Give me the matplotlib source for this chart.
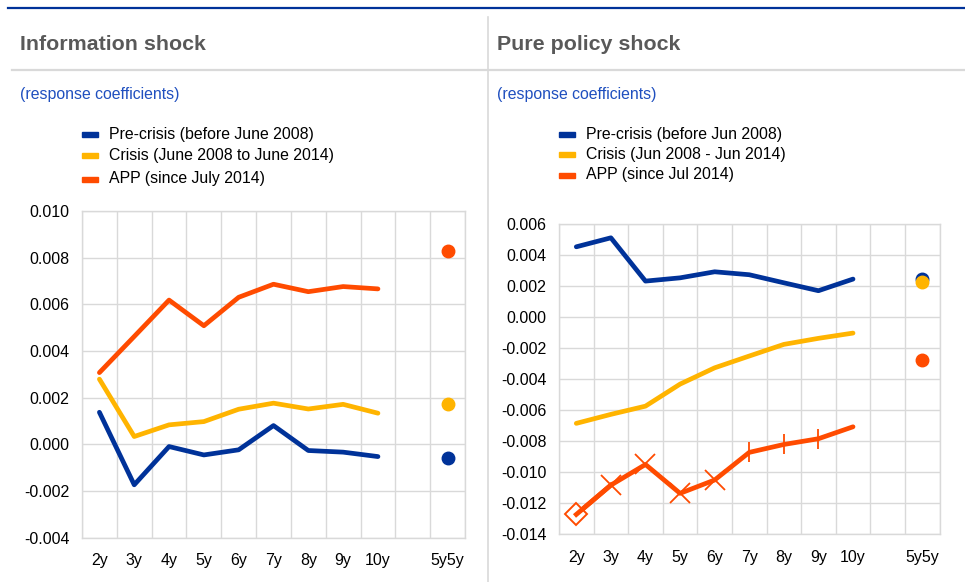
import matplotlib

matplotlib.use("Agg")
import matplotlib.pyplot as plt
from matplotlib.lines import Line2D
from matplotlib.patches import Rectangle
import numpy as np

plt.rcParams["font.family"] = ["Liberation Sans", "DejaVu Sans"]

maturities = ["2y", "3y", "4y", "5y", "6y", "7y", "8y", "9y", "10y"]
extra_label = "5y5y"

info_pre = [0.00137, -0.00174, -0.00010, -0.00046, -0.00024, 0.00080, -0.00027, -0.00034, -0.00053]
info_crisis = [0.00279, 0.00033, 0.00083, 0.00097, 0.00150, 0.00176, 0.00151, 0.00171, 0.00133]
info_app = [0.00307, 0.00462, 0.00618, 0.00508, 0.00630, 0.00686, 0.00654, 0.00676, 0.00666]
info_5y5y = {"pre": -0.00057, "crisis": 0.00171, "app": 0.00828}

pure_pre = [0.00453, 0.00511, 0.00232, 0.00253, 0.00292, 0.00273, 0.00221, 0.00170, 0.00245]
pure_crisis = [-0.00685, -0.00627, -0.00574, -0.00432, -0.00327, -0.00251, -0.00176, -0.00137, -0.00103]
pure_app = [-0.01272, -0.01083, -0.00950, -0.01136, -0.01050, -0.00872, -0.00821, -0.00784, -0.00707]
pure_5y5y = {"pre": 0.00245, "crisis": 0.00228, "app": -0.00277}

info_labels = ["Pre-crisis (before June 2008)", "Crisis (June 2008 to June 2014)", "APP (since July 2014)"]
pure_labels = ["Pre-crisis (before Jun 2008)", "Crisis (Jun 2008 - Jun 2014)", "APP (since Jul 2014)"]

BLUE = "#003299"
YELLOW = "#ffb400"
ORANGE = "#ff4b00"
GRID = "#d9d9d9"
W, H = 965, 582


def fx(px):
    return px / W


def fy(py):
    return 1 - py / H


def draw_panel(ax, pre, crisis, app, last, ylim, yticks):
    x = np.arange(len(maturities))
    x_extra = len(maturities) + 1
    ax.plot(x, pre, color=BLUE, lw=3.4, solid_capstyle="round", zorder=3)
    ax.plot(x, crisis, color=YELLOW, lw=3.4, solid_capstyle="round", zorder=3)
    ax.plot(x, app, color=ORANGE, lw=3.4, solid_capstyle="round", zorder=3)
    ax.plot([x_extra], [last["pre"]], "o", color=BLUE, ms=9, zorder=4)
    ax.plot([x_extra], [last["crisis"]], "o", color=YELLOW, ms=9, zorder=4)
    ax.plot([x_extra], [last["app"]], "o", color=ORANGE, ms=9, zorder=4)

    ax.set_xlim(-0.5, x_extra + 0.5)
    ax.set_ylim(*ylim)
    ax.set_xticks(list(x) + [x_extra])
    ax.set_xticklabels(maturities + [extra_label])
    ax.set_xticks(np.arange(-0.5, x_extra + 1, 1.0), minor=True)
    ax.set_yticks(yticks)
    ax.set_yticklabels([f"{v:.3f}" for v in yticks])
    ax.grid(True, which="minor", axis="x", color=GRID, lw=1.0)
    ax.grid(True, which="major", axis="y", color=GRID, lw=1.0)
    ax.tick_params(which="both", length=0, labelsize=11.5, colors="#000000")
    ax.tick_params(axis="x", pad=11)
    ax.tick_params(axis="y", pad=9)
    for s in ax.spines.values():
        s.set_color(GRID)
        s.set_linewidth(1.0)
    ax.set_axisbelow(True)


fig = plt.figure(figsize=(W / 100, H / 100), dpi=100)

# frame lines
fig.add_artist(Line2D([fx(8), fx(965)], [fy(7.5), fy(7.5)], color=BLUE, lw=1.6))
fig.add_artist(Line2D([fx(12), fx(965)], [fy(70), fy(70)], color=GRID, lw=1.6))
fig.add_artist(Line2D([fx(488), fx(488)], [fy(17), fy(582)], color=GRID, lw=1.2))

for x0, title in [(20, "Information shock"), (497, "Pure policy shock")]:
    fig.text(fx(x0), fy(45), title, fontsize=15.4, fontweight="bold", color="#595959", va="center")
    fig.text(fx(x0), fy(95), "(response coefficients)", fontsize=11.4, color="#1f4fbf", va="center")

for lx, rows, labels in [(82, [134, 156, 179], info_labels), (559, [134, 155, 175], pure_labels)]:
    for py, lab, col in zip(rows, labels, [BLUE, YELLOW, ORANGE]):
        fig.add_artist(Rectangle((fx(lx), fy(py + 2.5)), fx(16), 5 / H, color=col, transform=fig.transFigure))
        fig.text(fx(lx + 27), fy(py), lab, fontsize=11.4, color="#000000", va="center")

ax1 = fig.add_axes([fx(82), fy(537.5), fx(465 - 82), (537.5 - 211) / H])
draw_panel(ax1, info_pre, info_crisis, info_app, info_5y5y, (-0.004, 0.010),
           np.arange(-0.004, 0.0101, 0.002))

ax2 = fig.add_axes([fx(559), fy(534.3), fx(939.5 - 559), (534.3 - 224) / H])
draw_panel(ax2, pure_pre, pure_crisis, pure_app, pure_5y5y, (-0.014, 0.006),
           np.arange(-0.014, 0.0061, 0.002))

# markers on the APP line of the pure policy shock panel
xm = np.arange(len(maturities))
ax2.plot([xm[0]], [pure_app[0]], marker="D", ms=11, mfc="white", mec=ORANGE, mew=1.4, ls="none", zorder=5)
ax2.plot(xm[1:5], pure_app[1:5], marker="x", ms=15, mec=ORANGE, mew=1.3, ls="none", zorder=5)
ax2.plot(xm[5:8], pure_app[5:8], marker="|", ms=15, mec=ORANGE, mew=1.3, ls="none", zorder=5)
ax2.plot(xm[:2], pure_app[:2], color=ORANGE, lw=3.4, zorder=7)

fig.savefig("out.png", dpi=100)
